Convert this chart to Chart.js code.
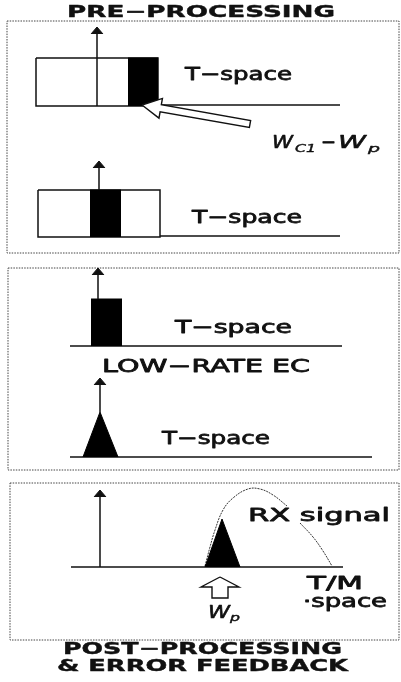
<!DOCTYPE html>
<html>
<head>
<meta charset="utf-8">
<script src="https://cdn.jsdelivr.net/npm/chart.js@4.4.0/dist/chart.umd.min.js"></script>
<style>
  html, body { margin: 0; padding: 0; background: #fff; }
  canvas { display: block; }
</style>
</head>
<body>
<canvas id="diagram" width="401" height="682"></canvas>
<script>
// diagram units: x 0..401 left to right, y 0..682 top to bottom

// dotted panel frames [left, top, right, bottom]
const panelFrames = [
  [7, 21, 399, 253],
  [8, 268, 399, 470],
  [10, 483, 399, 640]
];
// time axes [xStart, xEnd, y]
const baselines = [
  [158, 340, 105],
  [160, 340, 236],
  [70, 342, 346],
  [70, 372, 457],
  [71, 343, 567]
];
// vertical axis arrows [x, tipY, bottomY]
const axisArrows = [
  [97, 27, 106],
  [99, 161, 190],
  [98, 268, 299],
  [100, 378, 412],
  [100, 490, 567]
];
// open windows [x0, x1, top, bottom]
const openBlocks = [
  [36, 158, 58, 106],
  [38, 160, 190, 237]
];
// black windows [x0, x1, top, bottom]
const blackBlocks = [
  [128, 158, 58, 106],
  [90, 121, 190, 237],
  [91, 122, 299, 346]
];
// triangular pulses [xLeft, xApex, xRight, apexY, baseY]
const pulses = [
  [83, 100, 118, 412, 457],
  [205, 222, 240, 519, 567]
];
// RX signal envelope, two pieces (gap for the label)
const rxSignalA = [[205, 566], [210, 547], [215, 530], [223, 510], [233, 498], [248, 489], [260, 489], [273, 495], [287, 506]];
const rxSignalB = [[300, 523], [313, 537], [323, 551], [332, 566]];
// hollow pointer arrows: tip, tail
const hollowTips = [[142, 105], [220, 577]];
const hollowTails = [[250, 124], [220, 598]];

// text runs [text, xLeft, xRight, baselineY, kind]
const labelRuns = [
  ['PRE\u2212PROCESSING', 67, 335, 17, 'title'],
  ['T\u2212space', 185, 292, 80, 'plain'],
  ['W', 272, 293, 148, 'italic'],
  ['C1', 295, 316, 152, 'sub'],
  ['\u2212', 321, 336, 148, 'plain'],
  ['W', 338, 366, 148, 'italic'],
  ['p', 368, 380, 152, 'sub'],
  ['T\u2212space', 192, 302, 223, 'plain'],
  ['T\u2212space', 175, 292, 333, 'plain'],
  ['LOW\u2212RATE EC', 102, 310, 372, 'plain'],
  ['T\u2212space', 162, 270, 444, 'plain'],
  ['RX signal', 248, 390, 521, 'plain'],
  ['T/M', 307, 363, 589, 'plain'],
  ['\u00b7space', 303, 387, 607, 'plain'],
  ['W', 208, 230, 618, 'italic'],
  ['p', 230, 240, 621, 'sub'],
  ['POST\u2212PROCESSING', 63, 342, 654, 'title'],
  ['& ERROR FEEDBACK', 57, 348, 671, 'title']
];

const INK = '#111';
const FONT = '"DejaVu Sans", "Liberation Sans", sans-serif';
const fonts = {
  title: 'bold 16px ' + FONT,
  plain: '18px ' + FONT,
  italic: 'italic 18px ' + FONT,
  sub: 'italic 11px ' + FONT
};
// extra outline to thicken the strokes a little
const weight = { title: 0.4, plain: 0.8, italic: 0.6, sub: 0.4 };

const pt = (p) => ({ x: p[0], y: p[1] });
const datasets = [];

// hollow arrows first so they sit on top of the axes
hollowTips.forEach((tip, i) => {
  const tail = hollowTails[i];
  const dx = tail[0] - tip[0], dy = tail[1] - tip[1];
  const len = Math.hypot(dx, dy);
  const ux = dx / len, uy = dy / len;
  const nx = -uy, ny = ux;
  const vertical = i === 1;
  const headLen = vertical ? 10 : 19;
  const headHalf = vertical ? 19 : 10;
  const shaftHalf = vertical ? 8 : 3.6;
  const hb = [tip[0] + ux * headLen, tip[1] + uy * headLen];
  const poly = [
    tip,
    [hb[0] + nx * headHalf, hb[1] + ny * headHalf],
    [hb[0] + nx * shaftHalf, hb[1] + ny * shaftHalf],
    [tail[0] + nx * shaftHalf, tail[1] + ny * shaftHalf],
    [tail[0] - nx * shaftHalf, tail[1] - ny * shaftHalf],
    [hb[0] - nx * shaftHalf, hb[1] - ny * shaftHalf],
    [hb[0] - nx * headHalf, hb[1] - ny * headHalf],
    tip
  ];
  datasets.push({
    data: poly.map(pt), showLine: true, borderColor: INK, borderWidth: 1.4,
    backgroundColor: '#fff', fill: 'shape', tension: 0
  });
});

// arrowheads and shafts of the vertical axes
axisArrows.forEach(([x, tip, bottom]) => {
  datasets.push({
    data: [{ x: x - 6, y: tip + 7 }, { x: x, y: tip }, { x: x + 6, y: tip + 7 }],
    showLine: true, borderColor: INK, borderWidth: 1, backgroundColor: INK,
    fill: { value: tip + 7 }
  });
  datasets.push({
    data: [{ x: x, y: tip + 6 }, { x: x, y: bottom }],
    showLine: true, borderColor: INK, borderWidth: 1.5
  });
});

blackBlocks.forEach(([x0, x1, top, bottom]) => {
  datasets.push({
    data: [{ x: x0, y: top }, { x: x1, y: top }],
    showLine: true, borderColor: '#000', borderWidth: 1, backgroundColor: '#000',
    fill: { value: bottom }
  });
});

pulses.forEach(([xl, xa, xr, ya, yb]) => {
  datasets.push({
    data: [{ x: xl, y: yb }, { x: xa, y: ya }, { x: xr, y: yb }],
    showLine: true, borderColor: '#000', borderWidth: 1, backgroundColor: '#000',
    fill: { value: yb }
  });
});

[rxSignalA, rxSignalB].forEach((seg) => {
  datasets.push({
    data: seg.map(pt), showLine: true, borderColor: '#333', borderWidth: 1,
    borderDash: [2, 1], tension: 0.4
  });
});

openBlocks.forEach(([x0, x1, top, bottom]) => {
  datasets.push({
    data: [[x0, top], [x1, top], [x1, bottom], [x0, bottom], [x0, top]].map(pt),
    showLine: true, borderColor: INK, borderWidth: 1.5
  });
});

baselines.forEach(([x0, x1, y]) => {
  datasets.push({
    data: [{ x: x0, y: y }, { x: x1, y: y }],
    showLine: true, borderColor: INK, borderWidth: 1.5
  });
});

panelFrames.forEach(([l, t, r, b]) => {
  datasets.push({
    data: [[l, t], [r, t], [r, b], [l, b], [l, t]].map(pt),
    showLine: true, borderColor: '#444', borderWidth: 1, borderDash: [1.5, 1.2]
  });
});

const labelPlugin = {
  id: 'labels',
  afterDraw(chart) {
    const { ctx, scales } = chart;
    ctx.save();
    ctx.fillStyle = INK;
    ctx.strokeStyle = INK;
    ctx.lineJoin = 'round';
    ctx.textBaseline = 'alphabetic';
    ctx.textAlign = 'left';
    labelRuns.forEach(([text, xl, xr, yb, kind]) => {
      ctx.font = fonts[kind];
      const left = scales.x.getPixelForValue(xl);
      const right = scales.x.getPixelForValue(xr);
      const base = scales.y.getPixelForValue(yb);
      const w = ctx.measureText(text).width;
      ctx.save();
      ctx.translate(left, base);
      ctx.scale((right - left) / w, 1);
      ctx.lineWidth = weight[kind];
      ctx.fillText(text, 0, 0);
      ctx.strokeText(text, 0, 0);
      ctx.restore();
    });
    ctx.restore();
  }
};

new Chart(document.getElementById('diagram'), {
  type: 'scatter',
  data: { datasets },
  options: {
    responsive: false,
    animation: false,
    layout: { padding: 0 },
    elements: { point: { radius: 0, hoverRadius: 0 }, line: { borderCapStyle: 'butt' } },
    plugins: { legend: { display: false }, tooltip: { enabled: false } },
    scales: {
      x: { type: 'linear', min: 0, max: 401, display: false },
      y: { type: 'linear', min: 0, max: 682, reverse: true, display: false }
    }
  },
  plugins: [labelPlugin]
});
</script>
</body>
</html>
